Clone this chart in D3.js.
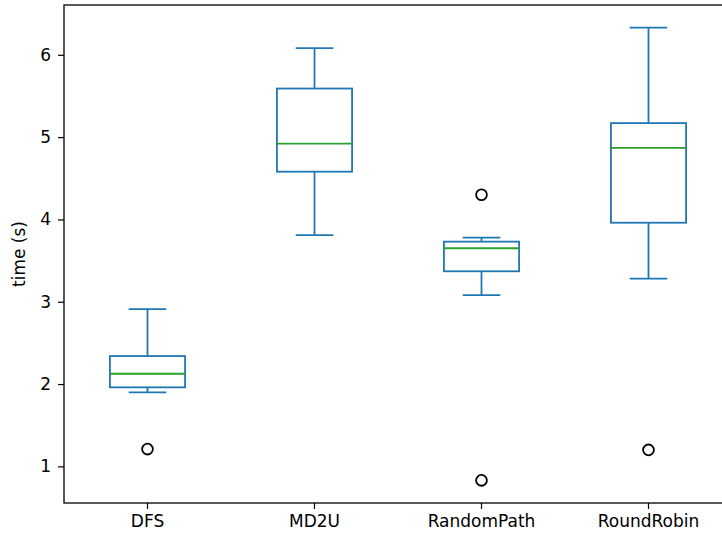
<!DOCTYPE html>
<head>
    <meta charset="utf-8">
    <script src="https://d3js.org/d3.v7.min.js"></script>
    <style>
        *{
            margin:0;
            padding:0;
        }
        body{
            background: #fff;
            font-family: 'DejaVu Sans', sans-serif;
        }
        text{
            font-size: 17px;
            fill: #000;
        }
    </style>
</head>

<body>
<svg id="viz"></svg>

<script>

    //data
    let categories = ["DFS", "MD2U", "RandomPath", "RoundRobin"];
    let whiskLow  = [1.90, 3.81, 3.08, 3.28];
    let q1        = [1.96, 4.58, 3.37, 3.96];
    let median    = [2.125, 4.92, 3.65, 4.87];
    let q3        = [2.34, 5.59, 3.73, 5.17];
    let whiskHigh = [2.91, 6.08, 3.78, 6.33];
    let outliers  = [[1.21], [], [4.30, 0.83], [1.20]];
    let yTicks    = [1, 2, 3, 4, 5, 6];

    let width = 722, height = 536;
    let plotLeft = 64, plotTop = 5, plotRight = 732, plotBottom = 503;

    let svg = d3.select("svg")
        .attr("width", width)
        .attr("height", height);

    let boxes = categories.map((c, i) => ({
        cat: c, lo: whiskLow[i], q1: q1[i], med: median[i], q3: q3[i], hi: whiskHigh[i], out: outliers[i]
    }));

    //y domain like matplotlib: data extent with 5% margin
    let allVals = boxes.flatMap(d => [d.lo, d.hi, ...d.out]);
    let ext = d3.extent(allVals);
    let pad = (ext[1] - ext[0]) * 0.05;

    let y = d3.scaleLinear()
        .domain([ext[0] - pad, ext[1] + pad])
        .range([plotBottom, plotTop]);

    let x = d3.scaleBand()
        .domain(categories)
        .range([plotLeft, plotRight])
        .paddingInner(0)
        .paddingOuter(0);

    let bw = x.bandwidth();
    let boxW = bw * 0.45;
    let capW = boxW / 2;
    let cx = d => x(d.cat) + bw / 2;

    let blue = "#1f77b4", green = "#2ca02c";

    let g = svg.selectAll("g.box")
        .data(boxes)
        .enter()
        .append("g")
        .attr("class", "box");

    //whiskers
    g.append("line")
        .attr("x1", cx).attr("x2", cx)
        .attr("y1", d => y(d.q3)).attr("y2", d => y(d.hi))
        .attr("stroke", blue).attr("stroke-width", 1.8);
    g.append("line")
        .attr("x1", cx).attr("x2", cx)
        .attr("y1", d => y(d.q1)).attr("y2", d => y(d.lo))
        .attr("stroke", blue).attr("stroke-width", 1.8);

    //caps
    g.append("line")
        .attr("x1", d => cx(d) - capW / 2).attr("x2", d => cx(d) + capW / 2)
        .attr("y1", d => y(d.hi)).attr("y2", d => y(d.hi))
        .attr("stroke", blue).attr("stroke-width", 1.8);
    g.append("line")
        .attr("x1", d => cx(d) - capW / 2).attr("x2", d => cx(d) + capW / 2)
        .attr("y1", d => y(d.lo)).attr("y2", d => y(d.lo))
        .attr("stroke", blue).attr("stroke-width", 1.8);

    //box
    g.append("rect")
        .attr("x", d => cx(d) - boxW / 2)
        .attr("width", boxW)
        .attr("y", d => y(d.q3))
        .attr("height", d => y(d.q1) - y(d.q3))
        .attr("fill", "none")
        .attr("stroke", blue).attr("stroke-width", 1.8);

    //median
    g.append("line")
        .attr("x1", d => cx(d) - boxW / 2).attr("x2", d => cx(d) + boxW / 2)
        .attr("y1", d => y(d.med)).attr("y2", d => y(d.med))
        .attr("stroke", green).attr("stroke-width", 1.8);

    //fliers
    g.selectAll("circle")
        .data(d => d.out.map(v => ({cat: d.cat, v: v})))
        .enter()
        .append("circle")
        .attr("cx", cx)
        .attr("cy", d => y(d.v))
        .attr("r", 5.4)
        .attr("fill", "none")
        .attr("stroke", "#000")
        .attr("stroke-width", 1.8);

    //axes
    let yAxis = svg.append("g")
        .attr("transform", `translate(${plotLeft},0)`)
        .call(d3.axisLeft(y).tickValues(yTicks).tickFormat(d3.format("d")).tickSize(6).tickPadding(7));

    let xAxis = svg.append("g")
        .attr("transform", `translate(0,${plotBottom})`)
        .call(d3.axisBottom(x).tickSize(6).tickPadding(6));

    [yAxis, xAxis].forEach(a => {
        a.select(".domain").remove();
        a.selectAll("line").attr("stroke", "#000").attr("stroke-width", 1.2);
        a.selectAll("text").style("font-size", "17px").attr("fill", "#000")
            .style("font-family", "'DejaVu Sans', sans-serif");
    });

    //frame (right spine sits outside the window)
    svg.append("rect")
        .attr("x", plotLeft).attr("y", plotTop)
        .attr("width", plotRight - plotLeft).attr("height", plotBottom - plotTop)
        .attr("fill", "none")
        .attr("stroke", "#000")
        .attr("stroke-width", 1.3);

    //y label
    svg.append("text")
        .attr("transform", `translate(20,${(plotTop + plotBottom) / 2}) rotate(-90)`)
        .attr("text-anchor", "middle")
        .attr("dominant-baseline", "middle")
        .style("font-size", "17px")
        .text("time (s)");

</script>
</body>
